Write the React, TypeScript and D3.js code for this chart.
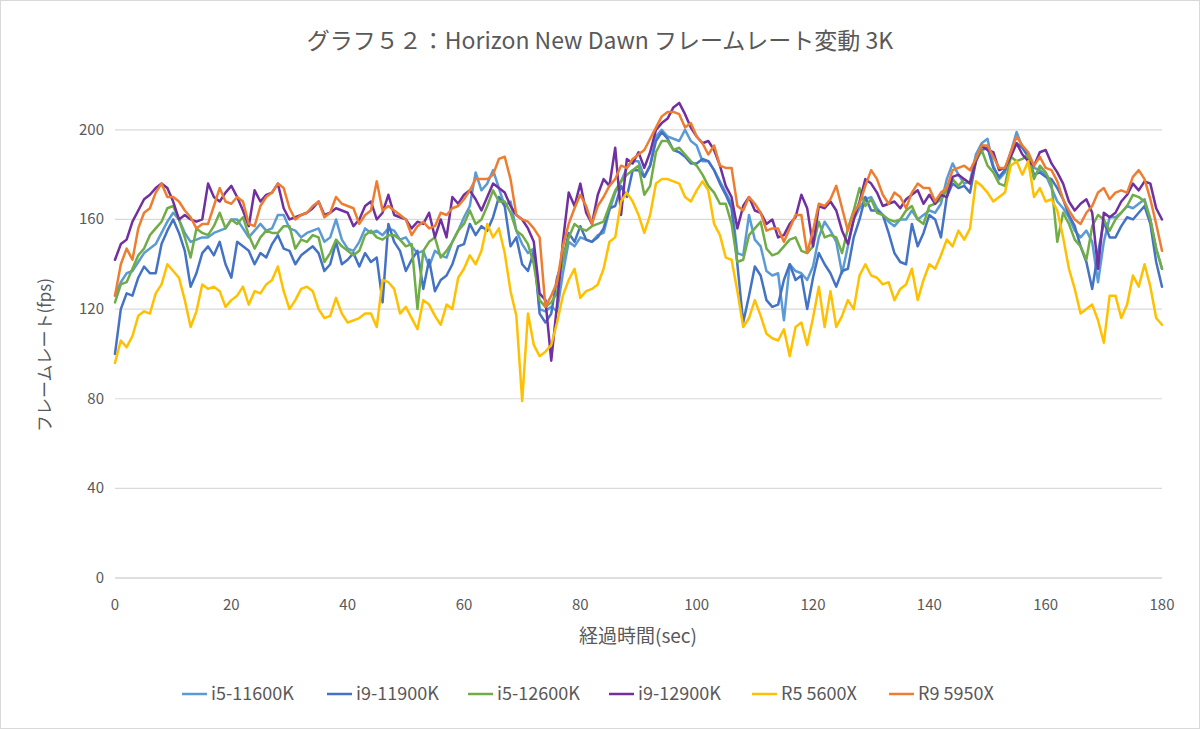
import React from "react";
import * as d3 from "d3";

const TITLE = "グラフ５２：Horizon New Dawn フレームレート変動 3K";
const X_LABEL = "経過時間(sec)";
const Y_LABEL = "フレームレート(fps)";
const X_TICKS = [0, 20, 40, 60, 80, 100, 120, 140, 160, 180];
const Y_TICKS = [0, 40, 80, 120, 160, 200];
const SERIES_NAMES = ["i5-11600K", "i9-11900K", "i5-12600K", "i9-12900K", "R5 5600X", "R9 5950X"];
const SERIES_COLORS = ["#5B9BD5", "#4472C4", "#70AD47", "#7030A0", "#FFC000", "#ED7D31"];

const i5_11600K = [
  126,132,136,137,141,145,147,149,154,159,163,
  160,154,150,151,152,152,154,155,156,160,
  160,156,152,155,158,155,156,162,162,156,
  155,152,154,155,156,150,152,160,151,147,
  146,150,156,154,155,153,156,155,151,152,
  148,145,146,139,146,144,143,150,155,161,
  166,181,173,176,182,174,166,168,155,149,
  145,147,120,119,121,119,136,150,148,152,
  151,150,153,154,164,172,177,183,186,186,
  179,184,197,200,197,196,195,200,195,193,
  186,186,182,177,172,167,145,144,162,151,
  148,137,135,136,115,140,137,136,133,139,
  152,159,155,150,136,148,160,165,169,170,
  165,162,159,157,160,160,164,160,162,164,
  163,167,178,185,180,176,177,189,194,196,
  184,178,181,190,199,192,189,183,182,180,
  174,168,165,161,155,152,155,150,132,150,
  161,161,163,166,165,167,169,160,147,138,
];

const i9_11900K = [
  100,120,127,126,134,139,136,136,149,155,160,
  154,146,130,136,145,148,144,150,140,134,
  150,148,146,140,145,143,149,153,147,146,
  140,144,146,148,145,137,140,150,140,142,
  145,139,145,141,143,123,158,150,146,137,
  142,146,129,142,128,133,135,140,148,149,
  158,153,157,155,161,170,166,148,152,140,
  137,146,118,114,118,134,142,154,150,157,
  151,150,152,156,165,166,175,170,182,182,
  179,184,195,199,196,191,190,188,185,185,
  187,186,182,176,171,165,140,114,126,139,
  135,124,121,122,133,140,133,135,120,134,
  145,140,136,130,137,138,152,160,170,164,
  164,162,154,145,141,140,158,148,154,162,
  160,152,170,176,174,175,172,186,191,192,
  183,179,182,190,194,192,188,180,181,179,
  178,174,169,162,157,148,141,129,145,159,
  152,152,157,161,160,163,166,158,141,130,
];

const i5_12600K = [
  123,131,132,138,144,147,153,156,159,165,166,
  160,152,143,156,154,153,157,163,156,160,
  158,161,153,147,152,155,154,154,157,157,
  147,151,150,153,152,141,145,151,148,146,
  144,146,153,155,152,151,153,153,151,148,
  149,120,146,150,152,143,146,150,155,158,
  164,158,160,166,173,168,168,163,155,153,
  149,140,124,121,123,127,142,152,158,156,
  155,157,158,159,166,173,177,180,182,184,
  171,175,190,195,195,191,192,189,186,184,
  180,175,172,167,167,158,141,142,153,156,
  159,147,144,145,148,151,152,146,145,148,
  159,152,153,152,145,156,164,174,166,169,
  163,162,160,159,160,164,166,160,158,166,
  167,169,173,178,175,178,176,186,191,184,
  181,176,175,188,186,187,189,178,184,181,
  176,150,163,158,151,148,142,157,162,160,
  155,160,163,166,171,170,168,160,147,138,
];

const i9_12900K = [
  142,149,151,159,164,169,171,174,176,174,168,
  160,162,160,159,160,176,170,168,172,175,
  170,164,157,173,168,171,172,176,165,160,
  161,162,163,165,168,162,163,165,164,163,
  157,160,166,168,160,163,171,162,161,160,
  156,159,158,163,152,160,152,170,167,171,
  173,169,164,170,176,174,172,166,162,160,
  156,150,127,124,97,122,150,172,166,176,
  163,158,171,178,175,192,162,187,185,190,
  183,190,200,203,205,210,212,207,201,197,
  194,195,191,184,175,170,156,166,170,164,
  163,158,160,152,153,158,161,171,165,148,
  166,165,168,164,155,149,160,168,178,176,
  172,166,167,168,165,169,171,173,167,171,
  167,171,170,179,180,178,176,186,193,191,
  190,182,183,188,194,189,186,184,190,191,
  185,181,176,168,164,167,169,163,138,163,
  161,163,168,171,176,173,177,176,165,160,
];

const r5_5600X = [
  96,106,103,108,117,119,118,127,131,140,137,
  134,124,112,119,131,129,130,128,121,124,
  126,130,122,128,127,131,133,139,128,120,
  124,129,130,128,120,116,117,125,118,114,
  115,116,118,118,112,133,132,129,118,121,
  116,111,124,122,117,113,122,120,134,138,
  144,140,146,158,152,156,145,128,117,79,
  118,104,99,101,104,114,126,133,138,125,
  128,129,131,138,150,152,168,172,168,162,
  154,162,176,178,178,177,176,170,168,173,
  177,173,158,153,143,142,128,112,116,124,
  117,109,107,106,111,99,112,114,104,116,
  130,112,128,112,117,124,120,135,140,135,
  134,131,132,124,129,131,138,124,133,140,
  138,144,151,148,155,151,156,177,175,172,
  168,170,172,184,186,180,186,170,174,168,
  169,164,152,138,129,118,120,122,115,105,
  126,126,116,122,135,130,140,130,116,113,
];

const r9_5950X = [
  126,140,147,142,156,163,165,172,176,170,170,
  168,164,161,156,158,158,166,174,168,167,
  170,168,158,157,166,170,172,176,174,165,
  160,162,163,166,168,161,163,170,167,166,
  165,158,162,164,177,164,166,164,162,160,
  153,157,159,156,157,163,162,165,166,169,
  173,178,178,178,180,187,188,178,162,160,
  159,156,152,121,126,132,148,158,165,171,
  166,158,166,170,175,178,184,183,187,189,
  191,196,201,206,208,208,207,201,203,197,
  194,189,193,184,183,183,166,164,170,167,
  163,155,156,156,150,156,162,162,145,155,
  167,166,169,175,165,155,163,167,175,182,
  178,171,167,172,170,165,172,176,174,174,
  168,172,174,182,183,184,182,187,193,193,
  188,183,183,190,197,193,190,184,188,183,
  182,177,169,164,160,158,163,166,172,174,
  169,172,173,172,179,182,178,169,158,146,
];

const SERIES = [i5_11600K, i9_11900K, i5_12600K, i9_12900K, r5_5600X, r9_5950X];
const LEGEND_X = [182, 327, 468, 609, 752, 889];

const W = 1200;
const H = 729;
const FONT = "'Noto Sans CJK JP', 'Noto Sans', sans-serif";
const TEXT = "#595959";

export default function App() {
  const x = d3.scaleLinear().domain([0, 180]).range([115, 1162]);
  const y = d3.scaleLinear().domain([0, 220]).range([578, 85]);
  const line = d3
    .line<number>()
    .x((_, i) => x(i))
    .y((d) => y(d));

  return (
    <div style={{ position: "absolute", left: 0, top: 0 }}>
      <svg width={W} height={H} style={{ display: "block", background: "#fff" }}>
        <rect x={0.5} y={0.5} width={W - 1} height={H - 1} fill="#fff" stroke="#d9d9d9" />
        <text x={600} y={49} textAnchor="middle" fontFamily={FONT} fontSize={23} fill={TEXT}>
          {TITLE}
        </text>
        {Y_TICKS.map((t) => (
          <g key={"y" + t}>
            <line x1={115} x2={1162} y1={y(t)} y2={y(t)} stroke={t === 0 ? "#bfbfbf" : "#d9d9d9"} strokeWidth={1.2} />
            <text x={104} y={y(t) + 5} textAnchor="end" fontFamily={FONT} fontSize={15} fill={TEXT}>
              {t}
            </text>
          </g>
        ))}
        {X_TICKS.map((t) => (
          <text key={"x" + t} x={x(t)} y={610} textAnchor="middle" fontFamily={FONT} fontSize={15} fill={TEXT}>
            {t}
          </text>
        ))}
        <text x={638} y={643} textAnchor="middle" fontFamily={FONT} fontSize={19} fill={TEXT}>
          {X_LABEL}
        </text>
        <text
          transform={`translate(51, 355) rotate(-90)`}
          textAnchor="middle"
          fontFamily={FONT}
          fontSize={17}
          fill={TEXT}
        >
          {Y_LABEL}
        </text>
        <g fill="none" strokeWidth={2.5} strokeLinejoin="round" strokeLinecap="round">
          {SERIES.map((s, i) => (
            <path key={SERIES_NAMES[i]} d={line(s) || ""} stroke={SERIES_COLORS[i]} />
          ))}
        </g>
        {SERIES_NAMES.map((n, i) => (
          <g key={"lg" + n}>
            <line x1={LEGEND_X[i]} x2={LEGEND_X[i] + 25} y1={694} y2={694} stroke={SERIES_COLORS[i]} strokeWidth={2.5} />
            <text x={LEGEND_X[i] + 29} y={700} fontFamily={FONT} fontSize={18} fill={TEXT}>
              {n}
            </text>
          </g>
        ))}
      </svg>
    </div>
  );
}
